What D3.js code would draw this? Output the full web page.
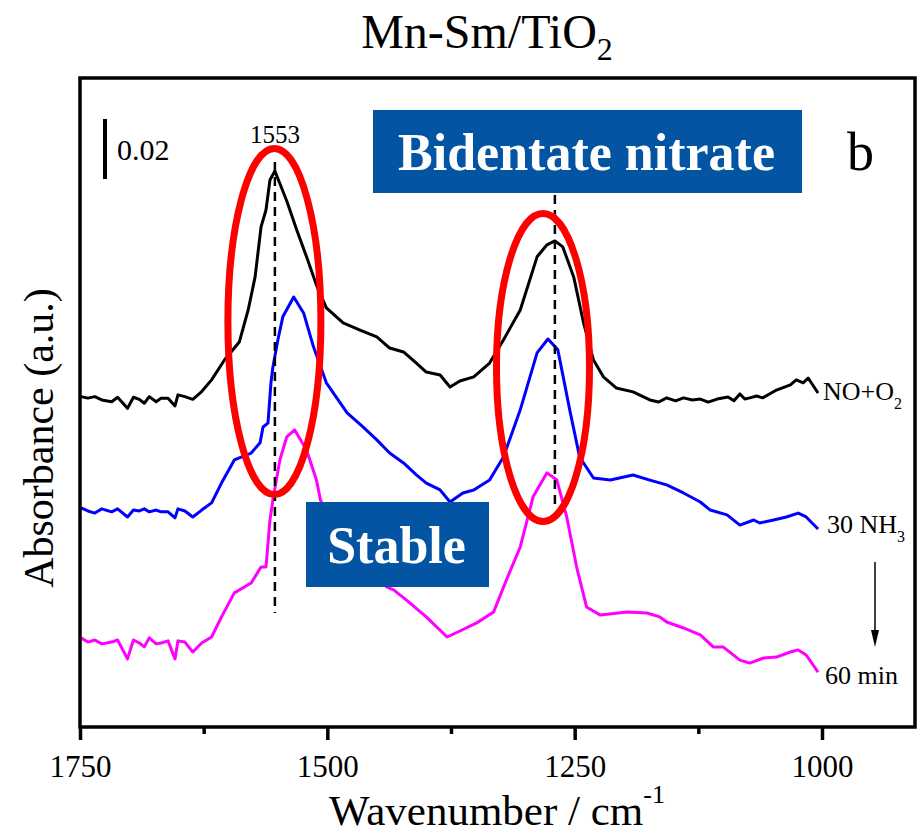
<!DOCTYPE html>
<html><head><meta charset="utf-8">
<script src="https://cdn.jsdelivr.net/npm/d3@7/dist/d3.min.js"></script>
<style>
body{margin:0;background:#fff}
svg{display:block}
</style>
</head><body>
<svg id="chart" width="923" height="835"></svg>
<script>
// ---- data (wavenumber in cm-1, absorbance with vertical offsets) ----
const noO2Wave = [1749,1742,1735,1728,1718,1712,1702,1696,1690,1685,1680,1673,1668,1661,1654,1651,1644,1636,1627,1617,1604,1589,1580,1573,1567,1562,1558,1553,1541,1531,1521,1511,1501,1484,1467,1450,1437,1423,1410,1400,1386,1376,1366,1352,1336,1322,1305,1288,1278,1270,1262,1251,1241,1231,1221,1208,1191,1174,1165,1157,1148,1140,1131,1123,1115,1106,1095,1089,1083,1078,1073,1066,1060,1046,1032,1026,1019,1014,1004];
const noO2Abs  = [0.1101,0.1096,0.1101,0.1090,0.1084,0.1099,0.1062,0.1099,0.1092,0.1079,0.1101,0.1084,0.1096,0.1096,0.1070,0.1107,0.1101,0.1092,0.1118,0.1157,0.1223,0.1283,0.1390,0.1500,0.1667,0.1723,0.1823,0.1853,0.1753,0.1657,0.1567,0.1473,0.1397,0.1347,0.1323,0.1300,0.1263,0.1250,0.1213,0.1183,0.1173,0.1133,0.1153,0.1167,0.1213,0.1290,0.1390,0.1567,0.1607,0.1620,0.1600,0.1500,0.1347,0.1223,0.1167,0.1130,0.1117,0.1090,0.1083,0.1097,0.1087,0.1097,0.1090,0.1093,0.1083,0.1093,0.1100,0.1087,0.1110,0.1093,0.1097,0.1103,0.1097,0.1123,0.1140,0.1157,0.1147,0.1163,0.1113];

const nh3Wave = [1749,1742,1735,1728,1718,1712,1702,1696,1690,1685,1680,1673,1668,1661,1654,1651,1644,1636,1627,1617,1607,1594,1577,1568,1565,1560,1557,1555,1550,1545,1534,1524,1514,1501,1480,1464,1450,1437,1423,1410,1400,1386,1376,1363,1352,1336,1322,1305,1288,1277,1267,1255,1245,1231,1214,1191,1174,1157,1140,1123,1113,1096,1083,1069,1063,1049,1036,1024,1016,1004];
const nh3Abs  = [0.0730,0.0720,0.0713,0.0727,0.0717,0.0727,0.0700,0.0723,0.0720,0.0727,0.0717,0.0723,0.0717,0.0717,0.0697,0.0727,0.0720,0.0700,0.0723,0.0747,0.0813,0.0890,0.0913,0.0947,0.1000,0.1013,0.1147,0.1200,0.1290,0.1367,0.1433,0.1380,0.1267,0.1147,0.1047,0.1000,0.0957,0.0913,0.0880,0.0840,0.0813,0.0790,0.0750,0.0780,0.0790,0.0823,0.0900,0.1057,0.1247,0.1293,0.1257,0.1057,0.0900,0.0830,0.0823,0.0840,0.0823,0.0807,0.0780,0.0750,0.0723,0.0707,0.0673,0.0690,0.0680,0.0690,0.0700,0.0713,0.0700,0.0660];

const min60Wave = [1749,1742,1735,1728,1718,1712,1702,1696,1690,1685,1680,1673,1668,1661,1654,1651,1644,1636,1627,1617,1607,1594,1577,1567,1562,1558,1555,1548,1541,1533,1521,1511,1507,1501,1480,1464,1450,1440,1433,1420,1400,1379,1366,1349,1332,1319,1305,1292,1278,1268,1258,1248,1238,1224,1197,1177,1164,1157,1140,1123,1110,1100,1083,1073,1059,1046,1032,1024,1016,1004];
const min60Abs  = [0.0297,0.0283,0.0290,0.0277,0.0283,0.0290,0.0227,0.0290,0.0280,0.0267,0.0297,0.0277,0.0280,0.0287,0.0227,0.0287,0.0283,0.0250,0.0280,0.0300,0.0367,0.0447,0.0480,0.0533,0.0533,0.0690,0.0757,0.0890,0.0967,0.0990,0.0923,0.0823,0.0757,0.0713,0.0603,0.0550,0.0503,0.0467,0.0457,0.0423,0.0367,0.0300,0.0320,0.0347,0.0383,0.0490,0.0600,0.0767,0.0847,0.0823,0.0700,0.0533,0.0400,0.0373,0.0383,0.0380,0.0367,0.0350,0.0330,0.0307,0.0267,0.0267,0.0223,0.0213,0.0230,0.0233,0.0250,0.0257,0.0240,0.0183];

const majorTicks = [1750,1500,1250,1000];
const minorTicks = [1625,1375,1125];
const peakLines = [1553,1270];
const scaleBarValue = 0.02;

// ---- layout ----
const FONT = '"Liberation Serif","Tinos","Times New Roman",Times,"DejaVu Serif",serif';
const svg = d3.select("#chart").style("font-family", FONT);
const L=80, R=915, T=78, B=727;
const x = d3.scaleLinear().domain([1750,906]).range([L,R]);
const y = d3.scaleLinear().domain([0,0.2163]).range([B,T]);

const series = [
  {w:noO2Wave, a:noO2Abs, color:"#000000"},
  {w:nh3Wave, a:nh3Abs, color:"#0000ff"},
  {w:min60Wave, a:min60Abs, color:"#ff00ff"}
];
const line = d3.line().x(d=>x(d[0])).y(d=>y(d[1]));

series.forEach(s=>{
  svg.append("path")
    .attr("d", line(s.w.map((w,i)=>[w,s.a[i]])))
    .attr("fill","none").attr("stroke",s.color)
    .attr("stroke-width",3).attr("stroke-linejoin","round");
});

// axes
const gx = svg.append("g").attr("transform",`translate(0,${B})`)
  .call(d3.axisBottom(x).tickValues(majorTicks).tickSize(13).tickPadding(15).tickFormat(d3.format("d")));
gx.attr("font-family", FONT);
gx.select(".domain").remove();
gx.selectAll(".tick line").attr("stroke","#000").attr("stroke-width",3.5);
gx.selectAll(".tick text").attr("font-size",31).attr("fill","#000");
const gm = svg.append("g").attr("transform",`translate(0,${B})`)
  .call(d3.axisBottom(x).tickValues(minorTicks).tickSize(7).tickFormat(""));
gm.select(".domain").remove();
gm.selectAll(".tick line").attr("stroke","#000").attr("stroke-width",3.5);

svg.append("rect").attr("x",L).attr("y",T).attr("width",R-L).attr("height",B-T)
  .attr("fill","none").attr("stroke","#000").attr("stroke-width",3.5);

// dashed peak lines
const dashSpans = [[162,613],[195,508]];
peakLines.forEach((p,i)=>{
  svg.append("line").attr("x1",x(p)).attr("x2",x(p))
    .attr("y1",dashSpans[i][0]).attr("y2",dashSpans[i][1])
    .attr("stroke","#000").attr("stroke-width",2.5).attr("stroke-dasharray","9,6");
});

// red ellipses
[[x(1553)-0.5,321.5,46.5,173],[543,367.5,46.5,154]].forEach(e=>{
  svg.append("ellipse").attr("cx",e[0]).attr("cy",e[1]).attr("rx",e[2]).attr("ry",e[3])
    .attr("fill","none").attr("stroke","#ff0000").attr("stroke-width",7);
});

// boxes
function box(x0,y0,w,h,label,base){
  svg.append("rect").attr("x",x0).attr("y",y0).attr("width",w).attr("height",h).attr("fill","#0354a3");
  svg.append("text").attr("x",x0+w/2-1).attr("y",base).attr("text-anchor","middle")
    .attr("font-size",52).attr("font-weight","bold").attr("fill","#fff").text(label);
}
box(373,110,429,83,"Bidentate nitrate",170);
box(306,502,183,85,"Stable",563);

// scale bar
svg.append("line").attr("x1",105).attr("x2",105).attr("y1",119).attr("y2",119+(y(0)-y(scaleBarValue)))
  .attr("stroke","#000").attr("stroke-width",4);
svg.append("text").attr("x",117).attr("y",160).attr("font-size",30).text("0.02");
svg.append("text").attr("x",x(1553)).attr("y",143).attr("font-size",25).attr("text-anchor","middle").text("1553");
svg.append("text").attr("x",847).attr("y",170).attr("font-size",54).text("b");

// series labels
function sublabel(x0,base,main,sub){
  const t = svg.append("text").attr("x",x0).attr("y",base).attr("font-size",26);
  t.append("tspan").text(main);
  if(sub) t.append("tspan").attr("font-size",16).attr("dy",9).text(sub);
}
sublabel(823,400,"NO+O","2");
sublabel(827,533,"30 NH","3");
sublabel(825,684,"60 min",null);

// arrow
svg.append("line").attr("x1",875).attr("x2",875).attr("y1",562).attr("y2",632).attr("stroke","#000").attr("stroke-width",1.5);
svg.append("path").attr("d","M871,630 L879,630 L875,647 Z").attr("fill","#000");

// titles
const tt = svg.append("text").attr("x",487).attr("y",48).attr("text-anchor","middle").attr("font-size",48);
tt.append("tspan").text("Mn-Sm/TiO");
tt.append("tspan").attr("font-size",32).attr("dy",12).text("2");

const xt = svg.append("text").attr("x",497).attr("y",825).attr("text-anchor","middle").attr("font-size",43);
xt.append("tspan").text("Wavenumber / cm");
xt.append("tspan").attr("font-size",26).attr("dy",-22).text("-1");

svg.append("text").attr("transform","translate(53,438) rotate(-90)").attr("text-anchor","middle")
  .attr("font-size",42).text("Absorbance (a.u.)");
</script>
</body></html>
